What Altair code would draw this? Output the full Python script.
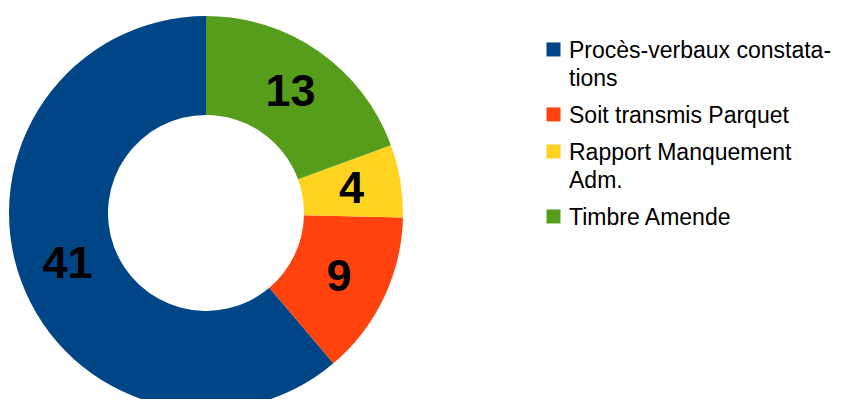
import altair as alt
import pandas as pd

categories = ["Procès-verbaux constatations", "Soit transmis Parquet",
              "Rapport Manquement Adm.", "Timbre Amende"]
values = [41, 9, 4, 13]
draw_order = [4, 3, 2, 1]  # clockwise from 12 o'clock: green, yellow, red, blue
colors = ["#004586", "#FF420E", "#FFD320", "#579D1C"]

df = pd.DataFrame({"cat": categories, "value": values, "ord": draw_order})

CX, CY = 198, 205
R_OUT, R_IN = 197, 98

base = alt.Chart(df).encode(
    theta=alt.Theta("value:Q", stack=True),
    order=alt.Order("ord:Q", sort="ascending"),
)

label_expr = ("datum.label == 'Procès-verbaux constatations' ? ['Procès-verbaux constata-', 'tions'] : "
              "datum.label == 'Rapport Manquement Adm.' ? ['Rapport Manquement', 'Adm.'] : datum.label")

# square lifted so that it sits beside the middle of the first text line
square_up = "M-1,-2.15H1V-0.15H-1Z"

arcs = base.mark_arc(outerRadius=R_OUT, innerRadius=R_IN, stroke=None).encode(
    x=alt.value(CX), y=alt.value(CY),
    color=alt.Color("cat:N", scale=alt.Scale(domain=categories, range=colors),
                    legend=alt.Legend(title=None, orient="none", legendX=534, legendY=38,
                                      symbolType=square_up, symbolSize=196,
                                      symbolStrokeWidth=0,
                                      labelFont="Liberation Sans", labelFontSize=23,
                                      labelBaseline="alphabetic",
                                      labelColor="#000000", labelLimit=400,
                                      labelOffset=4, rowPadding=13,
                                      labelExpr=label_expr)),
)

labels = base.mark_text(radius=(R_OUT + R_IN) / 2, font="Liberation Sans",
                        fontSize=45, fontWeight="bold", color="#000000",
                        align="center", baseline="middle").encode(
    x=alt.value(CX), y=alt.value(CY),
    text=alt.Text("value:Q"),
)

chart = alt.layer(arcs, labels).properties(
    width=848, height=391, autosize=alt.AutoSizeParams(type="none"), padding=0
).configure(
    style={"guide-label": {"lineHeight": 28}}
).configure_view(stroke=None)

chart.save("out.html", embed_options={"renderer": "svg", "actions": False})
